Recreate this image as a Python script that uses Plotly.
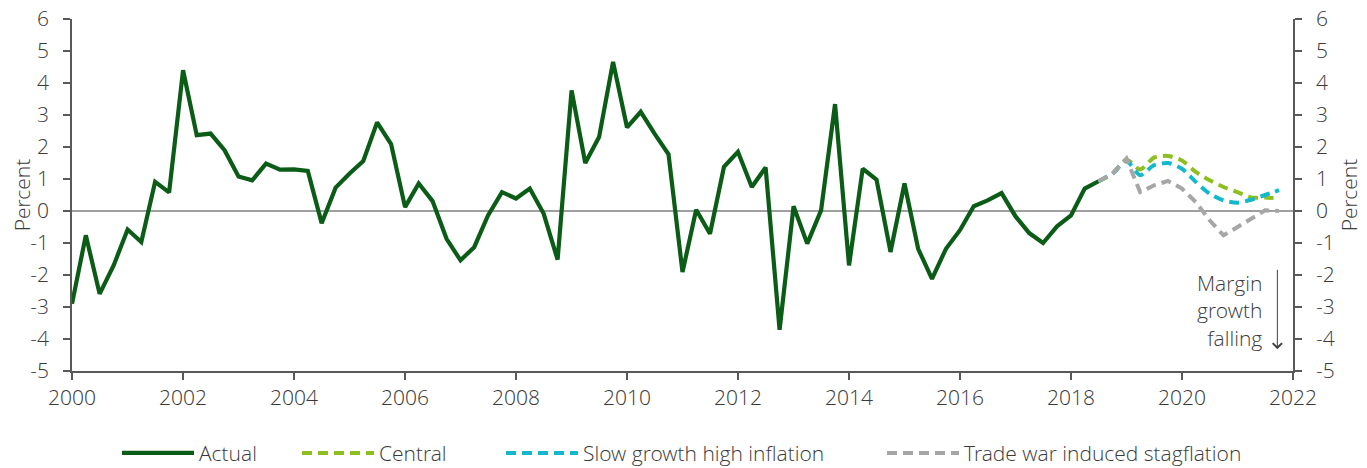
import pandas as pd
import plotly.graph_objects as go

# quarterly data, 2000Q1 onwards
actual = [
    -2.90, -0.76, -2.59, -1.70,
    -0.58, -0.97, 0.91, 0.58,
    4.40, 2.37, 2.42, 1.90,
    1.08, 0.96, 1.48, 1.29,
    1.30, 1.25, -0.38, 0.73,
    1.17, 1.56, 2.77, 2.09,
    0.12, 0.86, 0.31, -0.87,
    -1.54, -1.13, -0.14, 0.59,
    0.39, 0.70, -0.08, -1.52,
    3.77, 1.50, 2.31, 4.66,
    2.61, 3.10, 2.42, 1.77,
    -1.91, 0.04, -0.71, 1.38,
    1.85, 0.75, 1.36, -3.71,
    0.15, -1.02, 0.02, 3.34,
    -1.70, 1.32, 0.98, -1.28,
    0.86, -1.18, -2.12, -1.18,
    -0.60, 0.15, 0.33, 0.56,
    -0.17, -0.69, -1.00, -0.48,
    -0.14, 0.70, 0.93,
]

# scenarios, 2018Q3 to 2021Q4
central = [0.93, 1.17, 1.60, 1.30, 1.67, 1.72, 1.58, 1.22, 0.96, 0.75, 0.59, 0.42, 0.42, 0.39]
slow_growth = [0.93, 1.17, 1.56, 1.12, 1.43, 1.50, 1.32, 0.91, 0.54, 0.33, 0.26, 0.35, 0.50, 0.65]
trade_war = [0.93, 1.17, 1.64, 0.59, 0.80, 0.94, 0.70, 0.28, -0.29, -0.76, -0.50, -0.24, 0.02, 0.00]

y_ticks = [-5, -4, -3, -2, -1, 0, 1, 2, 3, 4, 5, 6]
y_ticktext = ["-5", "-4", "-3", "-2", "-1", "0", "1", "2", "3", "4", "5", "6"]

actual_dates = pd.date_range("2000-01-01", periods=len(actual), freq="QS")
proj_dates = pd.date_range("2018-07-01", periods=len(central), freq="QS")

FONT = "Open Sans Light, Open Sans, sans-serif"
TEXT = "#3a3a3a"
AXIS = "#595959"
SIZE = 21

# the page body adds an 8px margin, so the figure is a little smaller than the window
W, H = 1359, 460
M_L, M_R, M_T, M_B = 64, 74, 11, 97
PLOT_W = W - M_L - M_R

fig = go.Figure()
fig.add_trace(go.Scatter(
    x=actual_dates, y=actual, name="Actual", mode="lines", legend="legend",
    line=dict(color="#0b5c17", width=4.2),
))
fig.add_trace(go.Scatter(
    x=proj_dates, y=central, name="Central", mode="lines", legend="legend2",
    line=dict(color="#8cbf1f", width=4, dash="10px,6px", shape="spline", smoothing=0.7),
))
fig.add_trace(go.Scatter(
    x=proj_dates, y=slow_growth, name="Slow growth high inflation", mode="lines", legend="legend3",
    line=dict(color="#12b8cc", width=4, dash="10px,6px", shape="spline", smoothing=0.7),
))
fig.add_trace(go.Scatter(
    x=proj_dates, y=trade_war, name="Trade war induced stagflation", mode="lines", legend="legend4",
    line=dict(color="#a6a6a6", width=4, dash="10px,6px"),
))
# dummy trace to carry the right-hand axis
fig.add_trace(go.Scatter(x=[None], y=[None], yaxis="y2", showlegend=False, hoverinfo="skip"))

fig.add_hline(y=0, line=dict(color="#7f7f7f", width=1.5), layer="below")

fig.add_annotation(
    x="2021-06-25", y=-3.1, xref="x", yref="y",
    text="Margin<br>growth<br>falling", showarrow=False,
    xanchor="right", align="right",
    font=dict(family=FONT, size=SIZE, color=TEXT),
)
fig.add_annotation(
    x="2021-09-20", y=-4.32, ax="2021-09-20", ay=-1.79,
    xref="x", yref="y", axref="x", ayref="y",
    text="", showarrow=True, arrowhead=4, arrowsize=1.8, arrowwidth=1,
    arrowcolor="#404040",
)

axis_common = dict(
    showgrid=False, zeroline=False, automargin=False,
    showline=True, linecolor=AXIS, linewidth=1.5,
    ticks="outside", ticklen=7, tickcolor=AXIS, tickwidth=1.5,
    tickfont=dict(family=FONT, size=SIZE, color=TEXT),
    ticklabeloverflow="allow",
)


def legend_at(px):
    # px = left edge of the legend box in figure pixels
    return dict(
        xref="paper", x=(px - M_L) / PLOT_W, xanchor="left",
        yref="container", y=0.032, yanchor="middle",
        font=dict(family=FONT, size=SIZE, color=TEXT), itemwidth=72,
        bgcolor="rgba(0,0,0,0)",
    )


fig.update_layout(
    width=W, height=H,
    margin=dict(l=M_L, r=M_R, t=M_T, b=M_B),
    paper_bgcolor="white", plot_bgcolor="white",
    font=dict(family=FONT, size=SIZE, color=TEXT),
    showlegend=True,
    legend=legend_at(109),
    legend2=legend_at(289),
    legend3=legend_at(493),
    legend4=legend_at(874),
    xaxis=dict(
        type="date", range=["2000-01-01", "2022-01-01"],
        dtick="M24", tick0="2000-01-01", tickformat="%Y",
        **axis_common,
    ),
    yaxis=dict(
        range=[-5, 6], tickvals=y_ticks, ticktext=y_ticktext, ticklabelstandoff=10,
        title=dict(text="Percent", font=dict(family=FONT, size=SIZE, color=TEXT), standoff=3),
        **axis_common,
    ),
    yaxis2=dict(
        range=[-5, 6], tickvals=y_ticks, ticktext=y_ticktext, ticklabelstandoff=10,
        overlaying="y", side="right",
        title=dict(text="Percent", font=dict(family=FONT, size=SIZE, color=TEXT), standoff=3),
        **axis_common,
    ),
)

fig.write_html("out.html")
